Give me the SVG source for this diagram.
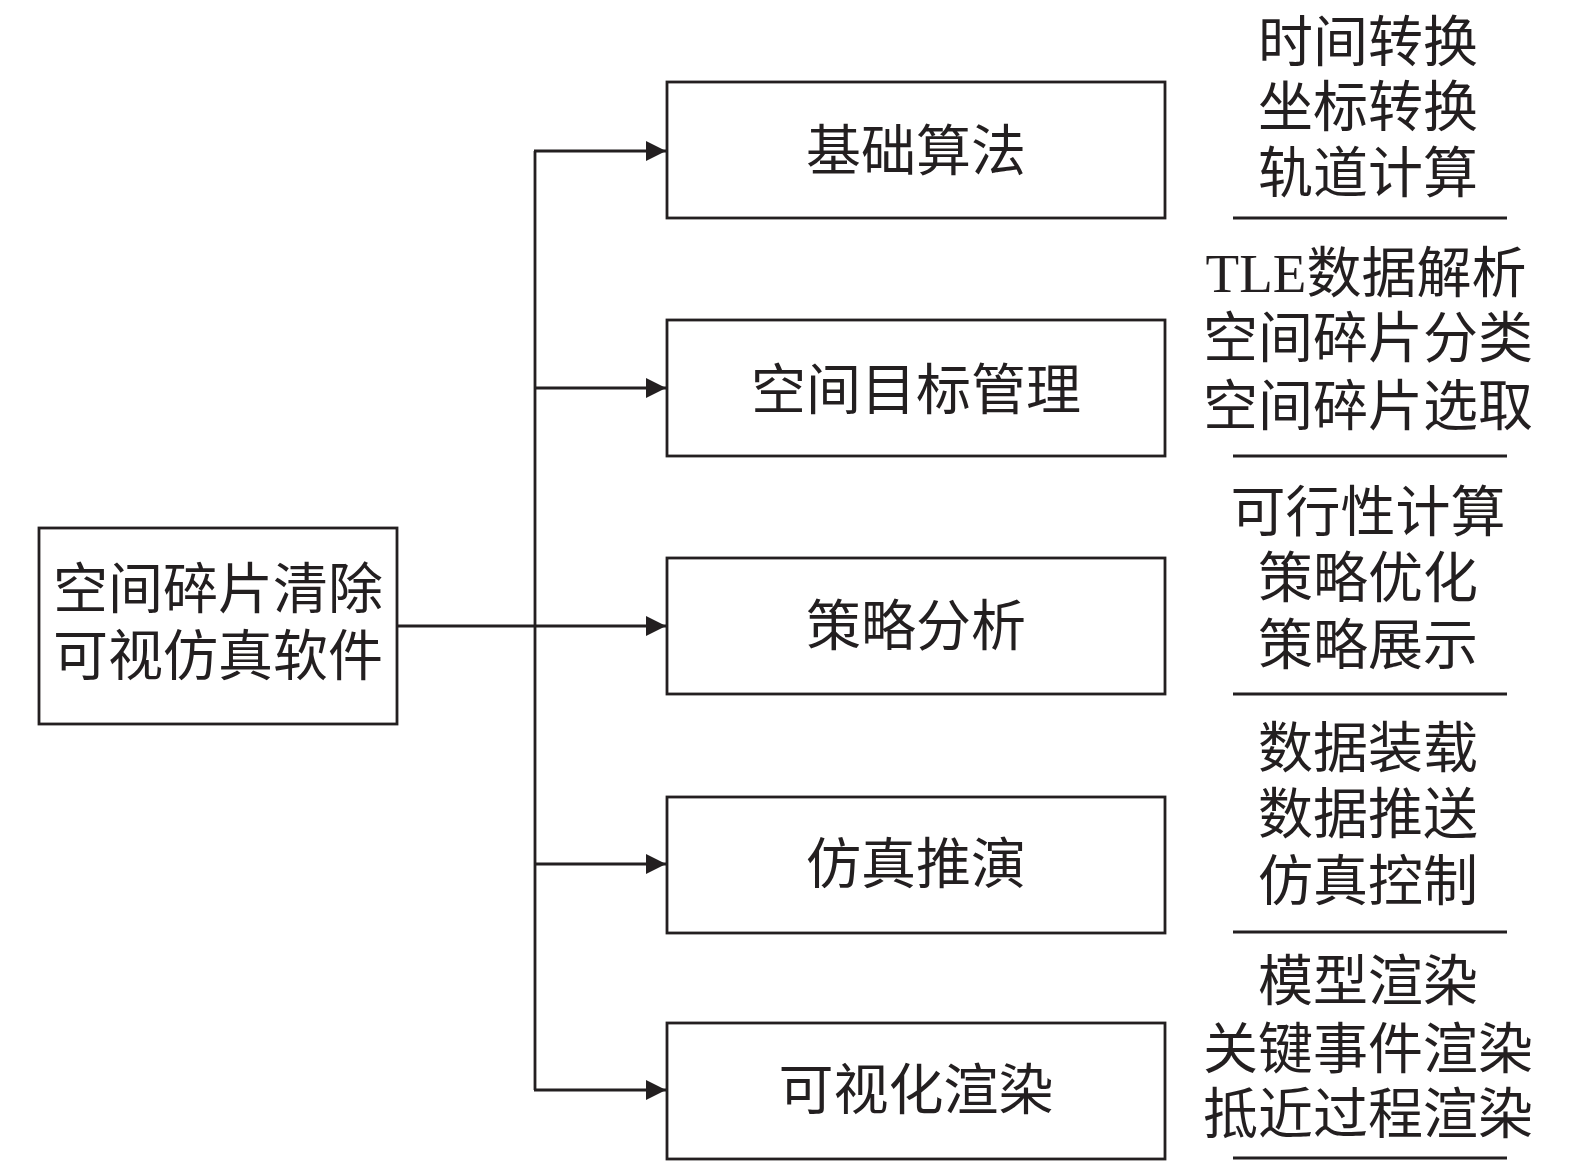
<svg xmlns="http://www.w3.org/2000/svg" width="1575" height="1168" viewBox="0 0 1575 1168">
<style>
.box{fill:#fff;stroke:#231f20;stroke-width:2.8}
.t{font-family:"Liberation Serif","Noto Sans CJK SC",serif;font-size:55px;fill:#231f20;text-anchor:middle}
.c{fill:none;stroke:#231f20;stroke-width:2.8}
.u{stroke:#231f20;stroke-width:3}
</style>
<defs>
<marker id="ah" markerWidth="20" markerHeight="20" viewBox="0 0 20 20" refX="20" refY="10" orient="auto" markerUnits="userSpaceOnUse">
<path d="M0,0 L20,10 L0,20 Z" fill="#231f20"/>
</marker>
</defs>
<rect width="1575" height="1168" fill="#fff"/>
<g id="connectors">
<line class="c" x1="397" y1="626" x2="666" y2="626" marker-end="url(#ah)"/>
<line class="c" x1="535" y1="151" x2="535" y2="1090"/>
<line class="c" x1="534" y1="151" x2="666" y2="151" marker-end="url(#ah)"/>
<line class="c" x1="535" y1="388" x2="666" y2="388" marker-end="url(#ah)"/>
<line class="c" x1="535" y1="864" x2="666" y2="864" marker-end="url(#ah)"/>
<line class="c" x1="534" y1="1090" x2="666" y2="1090" marker-end="url(#ah)"/>
</g>
<g id="root">
<rect class="box" x="39" y="528" width="358" height="196"/>
<text class="t" x="218" y="608">空间碎片清除</text>
<text class="t" x="218" y="675">可视仿真软件</text>
</g>
<g id="n1">
<rect class="box" x="667" y="82" width="498" height="136"/>
<text class="t" x="916" y="170">基础算法</text>
</g>
<g id="n2">
<rect class="box" x="667" y="320" width="498" height="136"/>
<text class="t" x="916" y="409">空间目标管理</text>
</g>
<g id="n3">
<rect class="box" x="667" y="558" width="498" height="136"/>
<text class="t" x="916" y="645">策略分析</text>
</g>
<g id="n4">
<rect class="box" x="667" y="797" width="498" height="136"/>
<text class="t" x="916" y="883">仿真推演</text>
</g>
<g id="n5">
<rect class="box" x="667" y="1023" width="498" height="136"/>
<text class="t" x="916" y="1109">可视化渲染</text>
</g>
<g id="d1">
<text class="t" x="1368" y="61">时间转换</text>
<text class="t" x="1368" y="126">坐标转换</text>
<text class="t" x="1368" y="192">轨道计算</text>
<line class="u" x1="1233" y1="218" x2="1507" y2="218"/>
</g>
<g id="d2">
<text class="t" x="1366" y="292">TLE数据解析</text>
<text class="t" x="1368" y="357">空间碎片分类</text>
<text class="t" x="1368" y="425">空间碎片选取</text>
<line class="u" x1="1233" y1="456" x2="1507" y2="456"/>
</g>
<g id="d3">
<text class="t" x="1368" y="531">可行性计算</text>
<text class="t" x="1368" y="597">策略优化</text>
<text class="t" x="1368" y="664">策略展示</text>
<line class="u" x1="1233" y1="694" x2="1507" y2="694"/>
</g>
<g id="d4">
<text class="t" x="1368" y="767">数据装载</text>
<text class="t" x="1368" y="833">数据推送</text>
<text class="t" x="1368" y="900">仿真控制</text>
<line class="u" x1="1233" y1="932" x2="1507" y2="932"/>
</g>
<g id="d5">
<text class="t" x="1368" y="1000">模型渲染</text>
<text class="t" x="1368" y="1068">关键事件渲染</text>
<text class="t" x="1368" y="1133">抵近过程渲染</text>
<line class="u" x1="1233" y1="1158" x2="1507" y2="1158"/>
</g>
</svg>
